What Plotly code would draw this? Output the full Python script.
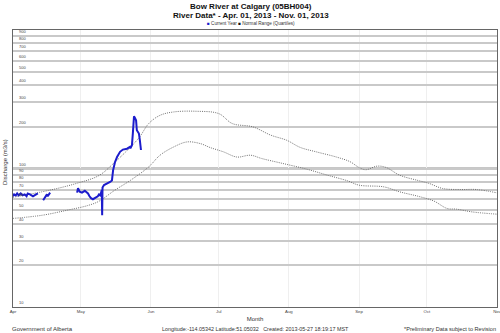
import math
import plotly.graph_objects as go

# ---------------- data ----------------
cur_time = [
    "2013-04-01 00:00", "2013-04-01 12:00", "2013-04-02 06:00", "2013-04-02 20:00",
    "2013-04-03 12:00", "2013-04-04 10:00", "2013-04-05 06:00", "2013-04-06 04:00",
    "2013-04-07 00:00", "2013-04-07 12:00", "2013-04-08 12:00", "2013-04-09 20:00",
    "2013-04-10 12:00", "2013-04-11 14:00", "2013-04-12 00:00",
    "2013-04-13 00:00",
    "2013-04-14 08:00", "2013-04-14 20:00", "2013-04-15 04:00", "2013-04-16 00:00",
    "2013-04-16 08:00", "2013-04-17 10:00",
    "2013-04-20 00:00",
    "2013-04-29 08:00", "2013-04-29 18:00", "2013-04-30 12:00", "2013-05-01 12:00",
    "2013-05-02 18:00", "2013-05-03 12:00", "2013-05-04 04:00", "2013-05-04 20:00",
    "2013-05-05 12:00", "2013-05-06 08:00", "2013-05-07 06:00", "2013-05-07 14:00",
    "2013-05-08 12:00", "2013-05-09 00:00", "2013-05-09 12:00", "2013-05-09 20:00",
    "2013-05-10 06:00", "2013-05-10 10:00", "2013-05-10 14:00", "2013-05-11 06:00",
    "2013-05-12 00:00", "2013-05-13 00:00", "2013-05-13 22:00", "2013-05-14 18:00",
    "2013-05-15 06:00", "2013-05-16 02:00", "2013-05-17 00:00", "2013-05-18 08:00",
    "2013-05-19 14:00", "2013-05-21 10:00", "2013-05-22 16:00", "2013-05-22 22:00",
    "2013-05-23 14:00", "2013-05-24 00:00", "2013-05-24 06:00", "2013-05-24 12:00",
    "2013-05-24 22:00", "2013-05-25 10:00", "2013-05-25 18:00", "2013-05-26 16:00",
    "2013-05-27 02:00", "2013-05-27 14:00",
]
cur_flow = [
    63, 65, 64, 66,
    64, 66, 64, 65,
    63, 66, 65, 63,
    64, 65, 66,
    None,
    59, 61, 62, 65,
    63, 67,
    None,
    67, 72, 68, 67,
    69, 67, 66, 63,
    61, 60, 61, 62,
    63, 65, 64, 66,
    70, 46, 73, 76,
    77, 78, 80, 82,
    97, 111, 121, 132,
    137, 139, 143, 140,
    147, 180, 223, 238,
    232, 223, 189, 179,
    160, 136,
]

upper_time = [
    "2013-04-01", "2013-04-17", "2013-04-29", "2013-05-09", "2013-05-16", "2013-05-23",
    "2013-05-27", "2013-05-31", "2013-06-05", "2013-06-11", "2013-06-21", "2013-07-01",
    "2013-07-07", "2013-07-16", "2013-07-24", "2013-07-31", "2013-08-06", "2013-08-13",
    "2013-08-22", "2013-08-28", "2013-09-01", "2013-09-04", "2013-09-09", "2013-09-13",
    "2013-09-19", "2013-09-27", "2013-10-02", "2013-10-08", "2013-10-16", "2013-10-23",
    "2013-11-01",
]
upper_flow = [
    62, 69.6, 78, 89, 111, 143,
    169, 211, 242, 256, 259, 249,
    211, 200, 174, 160, 142, 132,
    121, 112, 101.7, 98, 104, 101.7,
    89.4, 82, 78, 71.7, 70.5, 70.5,
    66.7,
]

lower_time = [
    "2013-04-01", "2013-04-14", "2013-04-25", "2013-05-04", "2013-05-09", "2013-05-16",
    "2013-05-23", "2013-05-31", "2013-06-05", "2013-06-11", "2013-06-17", "2013-06-23",
    "2013-06-27", "2013-07-03", "2013-07-09", "2013-07-15", "2013-07-20", "2013-07-29",
    "2013-08-09", "2013-08-18", "2013-08-27", "2013-09-01", "2013-09-12", "2013-09-19",
    "2013-09-27", "2013-10-04", "2013-10-10", "2013-10-14", "2013-10-21", "2013-11-01",
]
lower_flow = [
    43.6, 46, 50, 54, 58, 69.7,
    82.3, 102.7, 124.7, 143, 155.6, 151,
    142, 132, 121, 124.7, 118, 109,
    98.8, 89.5, 81.4, 75.8, 73.7, 67.8,
    63.1, 58.3, 51.4, 50.9, 48.6, 46.8,
]

month_ticks = ["2013-04-01", "2013-05-01", "2013-06-01", "2013-07-01",
               "2013-08-01", "2013-09-01", "2013-10-01", "2013-11-01"]
month_labels = ["Apr", "May", "Jun", "Jul", "Aug", "Sep", "Oct", "Nov"]

y_ticks = [10, 20, 30, 40, 50, 60, 70, 80, 90, 100, 200, 300, 400, 500, 600, 700, 800, 900]
y_labels = [str(v) for v in y_ticks]

# ---------------- layout helpers ----------------
W, H = 500, 333
ML, MR, MT, MB = 13, 3, 30, 26
PW, PH = W - ML - MR, H - MT - MB


def px(p):
    return (p - ML) / PW


def py(p):
    return (H - MB - p) / PH


FONT = "Liberation Sans, Arial, sans-serif"
DOT = "1px,1.2px"

fig = go.Figure()

fig.add_trace(go.Scatter(x=upper_time, y=upper_flow, mode="lines",
                         line=dict(color="#6e6e6e", width=1, dash=DOT),
                         line_shape="spline", showlegend=False, hoverinfo="skip"))
fig.add_trace(go.Scatter(x=lower_time, y=lower_flow, mode="lines",
                         line=dict(color="#6e6e6e", width=1, dash=DOT),
                         line_shape="spline", showlegend=False, hoverinfo="skip"))
fig.add_trace(go.Scatter(x=cur_time, y=cur_flow, mode="lines",
                         line=dict(color="#1c1ccc", width=2),
                         connectgaps=False, showlegend=False))

# reference line at 100
fig.add_shape(type="line", xref="paper", x0=0, x1=1, yref="y", y0=100, y1=100,
              line=dict(color="#222222", width=1.6), layer="between")

fig.update_layout(
    width=W, height=H,
    margin=dict(l=ML, r=MR, t=MT, b=MB, pad=0, autoexpand=False),
    paper_bgcolor="white", plot_bgcolor="white",
    font=dict(family=FONT, color="#333333"),
    showlegend=False,
    xaxis=dict(
        type="date",
        range=["2013-04-01", "2013-11-01"],
        tickvals=month_ticks, ticktext=month_labels,
        tickfont=dict(size=4.3, color="#444"),
        ticklabeloverflow="allow",
        automargin=False,
        ticks="", ticklen=0,
        showgrid=True, gridcolor="#efefef", gridwidth=1,
        showline=True, linecolor="#666666", linewidth=1, mirror=True,
        zeroline=False,
        title=dict(text="Month", font=dict(size=6, color="#333"), standoff=3),
    ),
    yaxis=dict(
        type="log",
        range=[1, 3],
        tickvals=y_ticks,
        showticklabels=False,
        automargin=False,
        ticks="",
        showgrid=True, gridcolor="#c9c9c9", gridwidth=1.5,
        showline=True, linecolor="#666666", linewidth=1, mirror=True,
        zeroline=False,
    ),
)

annotations = [
    dict(text="<b>Bow River at Calgary (05BH004)</b>", x=px(251), xref="paper",
         y=py(6), yref="paper", showarrow=False, xanchor="center", yanchor="middle",
         font=dict(size=8, color="#111", family=FONT)),
    dict(text="<b>River Data* - Apr. 01, 2013 - Nov. 01, 2013</b>", x=px(251), xref="paper",
         y=py(16), yref="paper", showarrow=False, xanchor="center", yanchor="middle",
         font=dict(size=8, color="#111", family=FONT)),
    dict(text="<span style='color:#1c1ccc'>■</span> Current Year "
              "<span style='color:#111'>■</span> Normal Range (Quartiles)",
         x=px(251), xref="paper", y=py(24), yref="paper", showarrow=False,
         xanchor="center", yanchor="middle", font=dict(size=4.6, color="#333", family=FONT)),
    dict(text="Discharge (m3/s)", x=px(5), xref="paper", y=py(162), yref="paper",
         showarrow=False, textangle=-90, xanchor="center", yanchor="middle",
         font=dict(size=6, color="#333", family=FONT)),
    dict(text="Government of Alberta", x=px(10), xref="paper", y=py(329), yref="paper",
         showarrow=False, xanchor="left", yanchor="middle",
         font=dict(size=6, color="#333", family=FONT)),
    dict(text="Longitude:-114.05342 Latitude:51.05032   Created: 2013-05-27 18:19:17 MST",
         x=px(255), xref="paper", y=py(329), yref="paper",
         showarrow=False, xanchor="center", yanchor="middle",
         font=dict(size=5.4, color="#333", family=FONT)),
    dict(text="*Preliminary Data subject to Revision", x=px(498), xref="paper",
         y=py(329), yref="paper", showarrow=False, xanchor="right", yanchor="middle",
         font=dict(size=5.6, color="#333", family=FONT)),
]
for v, lab in zip(y_ticks, y_labels):
    annotations.append(dict(text=lab, x=px(17), xref="paper", y=math.log10(v), yref="y",
                            showarrow=False, xanchor="left", yanchor="bottom", yshift=0,
                            font=dict(size=4, color="#444", family=FONT)))
fig.update_layout(annotations=annotations)

fig.write_html("out.html")
